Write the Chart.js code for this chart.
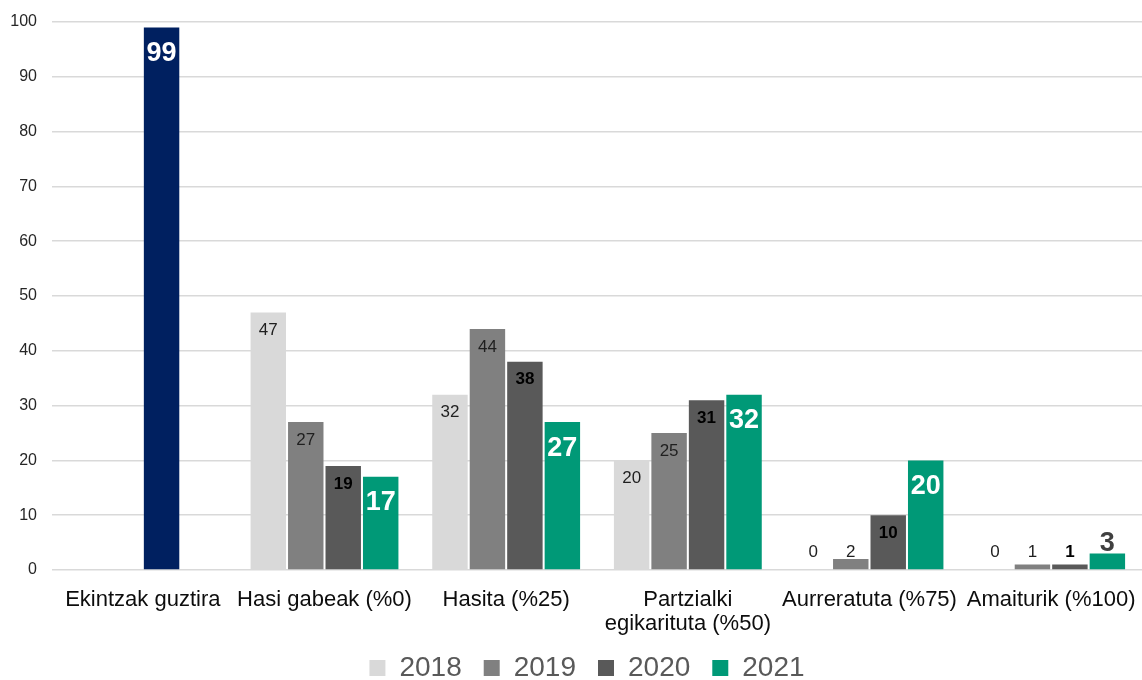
<!DOCTYPE html>
<html>
<head>
<meta charset="utf-8">
<script src="https://cdn.jsdelivr.net/npm/chart.js@4.4.1/dist/chart.umd.min.js"></script>
<style>
  html, body { margin: 0; padding: 0; background: #fff; }
  #wrap { width: 1142px; height: 680px; position: relative; }
</style>
</head>
<body>
<div id="wrap"><canvas id="chart"></canvas></div>
<script>
// chart data
const categories = [
  'Ekintzak guztira',
  'Hasi gabeak (%0)',
  'Hasita (%25)',
  ['Partzialki', 'egikarituta (%50)'],
  'Aurreratuta (%75)',
  'Amaiturik (%100)'
];
const years = ['2018', '2019', '2020', '2021'];
const values2018 = [null, 47, 32, 20, 0, 0];
const values2019 = [null, 27, 44, 25, 2, 1];
const values2020 = [99, 19, 38, 31, 10, 1];
const values2021 = [null, 17, 27, 32, 20, 3];
const yTicks = [0, 10, 20, 30, 40, 50, 60, 70, 80, 90, 100];

const FONT = '"Liberation Sans", Arial, sans-serif';
const NAVY = '#002060';
const seriesColors = ['#d9d9d9', '#808080', '#595959', '#009977'];

// label look per series: font size, weight, distance from bar top, colour inside / outside
const labelStyle = [
  { size: 17, weight: 'normal', off: 18, inside: '#1f1f1f', outside: '#1f1f1f' },
  { size: 17, weight: 'normal', off: 18, inside: '#1f1f1f', outside: '#1f1f1f' },
  { size: 17, weight: 'bold', off: 18, inside: '#000000', outside: '#000000' },
  { size: 27, weight: 'bold', off: 26, inside: '#ffffff', outside: '#404040' }
];
const totalStyle = { size: 27, weight: 'bold', off: 26, inside: '#ffffff', outside: '#ffffff' };

const barLabels = {
  id: 'barLabels',
  afterLayout(chart) {
    // x labels overflow the trimmed axis box, so do not clip them to it
    chart.scales.x.bottom = chart.height;
    // legend sits a bit right of the canvas centre in the original
    chart.legend.left += 11;
    chart.legend.right += 11;
  },
  afterDatasetsDraw(chart) {
    const ctx = chart.ctx;
    const base = chart.scales.y.getPixelForValue(0);
    chart.data.datasets.forEach((ds, di) => {
      const meta = chart.getDatasetMeta(di);
      meta.data.forEach((bar, i) => {
        const v = ds.data[i];
        if (v === null || v === undefined) return;
        const st = (di === 2 && i === 0) ? totalStyle : labelStyle[di];
        const inY = bar.y + st.off;
        const fits = inY <= base - st.off;
        const y = fits ? inY : base - st.off;
        ctx.save();
        ctx.font = `${st.weight} ${st.size}px ${FONT}`;
        ctx.fillStyle = fits ? st.inside : st.outside;
        ctx.textAlign = 'center';
        ctx.textBaseline = 'middle';
        ctx.fillText(String(v), bar.x, y);
        ctx.restore();
      });
    });
  }
};

const common = { barPercentage: 0.946, categoryPercentage: 0.825 };

new Chart(document.getElementById('chart'), {
  type: 'bar',
  data: {
    labels: categories,
    datasets: [
      { label: years[0], data: values2018, backgroundColor: seriesColors[0], ...common },
      { label: years[1], data: values2019, backgroundColor: seriesColors[1], ...common },
      {
        label: years[2], data: values2020, ...common,
        backgroundColor: c => (c.type === 'data' && c.dataIndex === 0) ? NAVY : seriesColors[2]
      },
      { label: years[3], data: values2021, backgroundColor: seriesColors[3], ...common }
    ]
  },
  options: {
    responsive: true,
    maintainAspectRatio: false,
    animation: false,
    layout: { padding: { top: 22, left: 10, right: 0, bottom: -12 } },
    plugins: {
      legend: {
        position: 'bottom',
        labels: {
          boxWidth: 16, boxHeight: 16, padding: 22,
          color: '#595959',
          font: { family: FONT, size: 28 },
          generateLabels: chart => {
            const items = Chart.defaults.plugins.legend.labels.generateLabels(chart);
            items.forEach(it => {
              it.fillStyle = seriesColors[it.datasetIndex];
              it.strokeStyle = seriesColors[it.datasetIndex];
              it.lineWidth = 0;
            });
            return items;
          }
        }
      },
      tooltip: { enabled: false }
    },
    scales: {
      x: {
        grid: { display: false },
        border: { display: false },
        afterFit: s => { s.height -= 14; s.paddingLeft = 0; s.paddingRight = 0; },
        ticks: {
          color: '#0d0d0d', font: { family: FONT, size: 22, lineHeight: 1.09 },
          maxRotation: 0, autoSkip: false, padding: 10
        }
      },
      y: {
        min: 0, max: 100,
        afterBuildTicks: axis => { axis.ticks = yTicks.map(v => ({ value: v })); },
        afterFit: s => { s.width = 42; s.paddingTop = 0; s.paddingBottom = 0; },
        grid: { color: '#d9d9d9', lineWidth: 1.5, drawTicks: false },
        border: { display: false },
        ticks: { color: '#262626', font: { family: FONT, size: 16 }, padding: 15 }
      }
    }
  },
  plugins: [barLabels]
});
</script>
</body>
</html>
